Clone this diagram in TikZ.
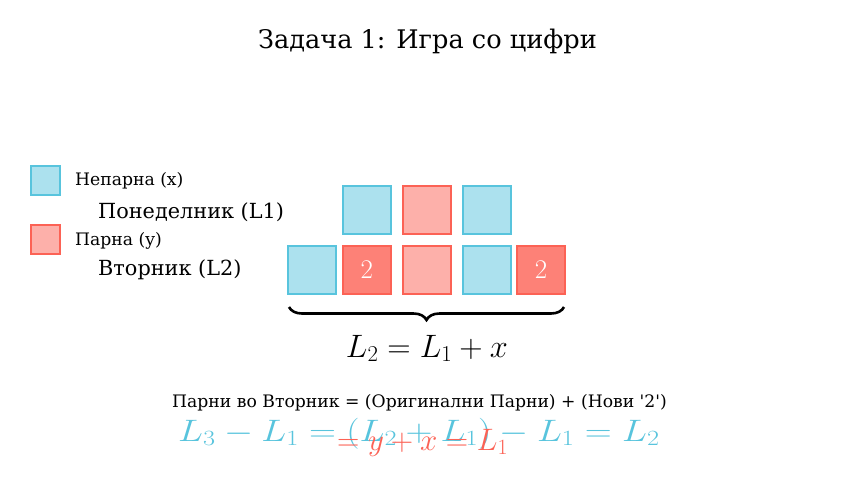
\RequirePackage{fix-cm}
\documentclass[tikz,border=0pt]{standalone}
\usepackage[no-math]{fontspec}
\setmainfont{DejaVu Serif}
\usetikzlibrary{decorations.pathreplacing}
\definecolor{mblue}{HTML}{58C4DD}
\definecolor{mred}{HTML}{FC6255}
\definecolor{bluefill}{HTML}{ACE1EE}
\definecolor{redfill}{HTML}{FDB0AA}
\definecolor{darkredfill}{HTML}{FD8177}
\tikzset{
  oddbox/.style={draw=mblue, fill=bluefill, line width=2pt, minimum size=48pt, inner sep=0pt},
  evenbox/.style={draw=mred, fill=redfill, line width=2pt, minimum size=48pt, inner sep=0pt},
  newbox/.style={draw=mred, fill=darkredfill, line width=2pt, minimum size=48pt, inner sep=0pt,
     text=white, font=\fontsize{27}{30}\selectfont},
  legbox/.style={line width=2pt, minimum size=29pt, inner sep=0pt},
  lbl/.style={anchor=base west, inner sep=0pt},
  mathbig/.style={font=\fontsize{31}{36}\selectfont, inner sep=0pt},
}
\begin{document}
\begin{tikzpicture}[x=1pt,y=-1pt]
\path[use as bounding box, fill=white] (0,0) rectangle (854,480);
% title
\node[anchor=base, inner sep=0pt, font=\fontsize{25.6}{30}\selectfont] (title) at (427.5,48.5) {Задача 1: Игра со цифри};
% legend
\node[legbox, draw=mblue, fill=bluefill] (legodd) at (45,180) {};
\node[legbox, draw=mred, fill=redfill] (legeven) at (45,239.5) {};
\node[lbl, font=\fontsize{17.2}{20}\selectfont] (legoddtxt) at (75,185) {Непарна (x)};
\node[lbl, font=\fontsize{17.2}{20}\selectfont] (legeventxt) at (75,245) {Парна (y)};
\node[lbl, font=\fontsize{20.8}{24}\selectfont] (mon) at (98,218) {Понеделник (L1)};
\node[lbl, font=\fontsize{20.8}{24}\selectfont] (tue) at (98,275) {Вторник (L2)};
% Monday row
\node[oddbox]  (m1) at (366.7,210) {};
\node[evenbox] (m2) at (426.7,210) {};
\node[oddbox]  (m3) at (486.7,210) {};
% Tuesday row
\node[oddbox]  (t1) at (312.3,270) {};
\node[newbox]  (t2) at (366.7,270) {$2$};
\node[evenbox] (t3) at (426.7,270) {};
\node[oddbox]  (t4) at (486.7,270) {};
\node[newbox]  (t5) at (541,270) {$2$};
% brace
\coordinate (bl) at (289,307);
\coordinate (br) at (564,307);
\draw[line width=2.6pt, decorate, decoration={brace, mirror, amplitude=13pt}] (bl) -- (br);
\node[mathbig, anchor=base, font=\fontsize{32.4}{38}\selectfont] (eq1) at (427,357) {$L_2 = L_1 + x$};
% bottom text
\node[anchor=base, inner sep=0pt, font=\fontsize{17.2}{20}\selectfont] (note) at (419.5,407) {Парни во Вторник = (Оригинални Парни) + (Нови \textquotesingle 2\textquotesingle)};
\begin{scope}[shift={(178,441)}, xscale=1.205]
\node[mathbig, transform shape, anchor=base west, text=mblue] (blueeq) at (0,0) {$L_3 - L_1 = (L_2 + L_1) - L_1 = L_2$};
\end{scope}
\node[mathbig, anchor=base west, text=mred] (redeq) at (337,450) {$= y + x = L_1$};
\end{tikzpicture}
\end{document}
